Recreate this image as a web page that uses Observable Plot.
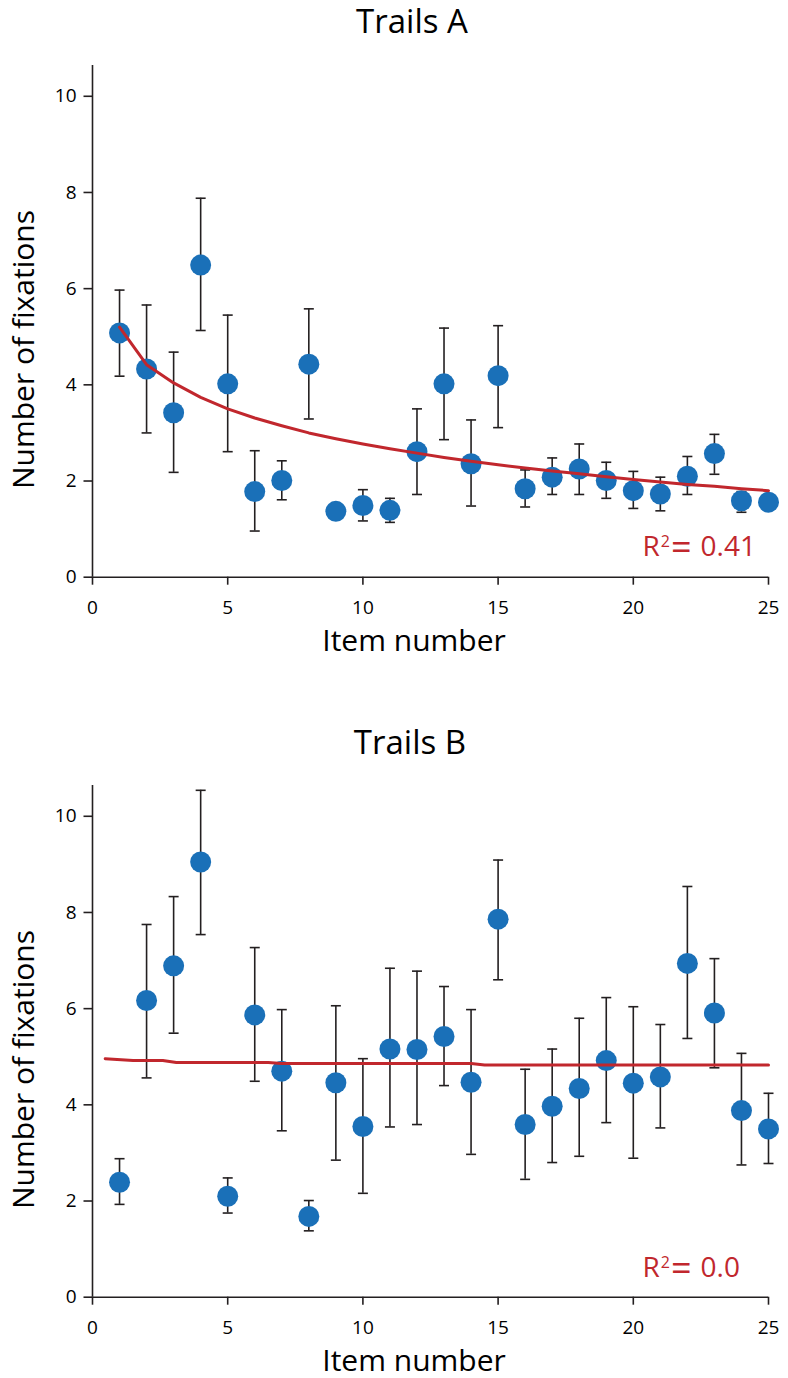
<!DOCTYPE html>
<html>
<head>
<meta charset="utf-8">
<script src="https://cdn.jsdelivr.net/npm/d3@7"></script>
<script src="https://cdn.jsdelivr.net/npm/@observablehq/plot@0.6"></script>
<style>
  body { margin: 0; background: #fff; }
  #page { position: relative; width: 788px; height: 1378px; font-family: "Open Sans", sans-serif; color: #000; }
  .title { position: absolute; width: 400px; text-align: center; font-size: 33px; line-height: 40px; color: #000; white-space: nowrap; }
  .panel { position: absolute; left: 0; }
  .panel svg { overflow: visible; }
</style>
</head>
<body>
<div id="page">
  <div class="title" style="left:212px; top:1px;">Trails A</div>
  <div class="panel" id="panelA" style="top:40px;"></div>
  <div class="title" style="left:210px; top:722px;">Trails B</div>
  <div class="panel" id="panelB" style="top:760px;"></div>
</div>
<script>
// ---- data ----
const items = [1, 2, 3, 4, 5, 6, 7, 8, 9, 10, 11, 12, 13, 14, 15, 16, 17, 18, 19, 20, 21, 22, 23, 24, 25];

// Trails A: mean, lower and upper error bar ends
const meanA = [5.08, 4.33, 3.42, 6.49, 4.02, 1.78, 2.01, 4.43, 1.37, 1.49, 1.39, 2.61, 4.02, 2.36, 4.19, 1.84, 2.08, 2.25, 2.01, 1.80, 1.73, 2.10, 2.57, 1.59, 1.56];
const loA   = [4.18, 3.00, 2.18, 5.13, 2.61, 0.96, 1.61, 3.29, 1.25, 1.17, 1.14, 1.72, 2.86, 1.48, 3.11, 1.46, 1.72, 1.72, 1.64, 1.43, 1.38, 1.72, 2.14, 1.35, 1.44];
const hiA   = [5.97, 5.66, 4.68, 7.88, 5.45, 2.63, 2.42, 5.58, 1.49, 1.82, 1.64, 3.50, 5.18, 3.27, 5.23, 2.23, 2.48, 2.77, 2.39, 2.20, 2.08, 2.51, 2.97, 1.78, 1.68];
// Trails A fitted curve, read at each item
const trendA = [5.20, 4.42, 4.04, 3.74, 3.50, 3.31, 3.15, 3.00, 2.88, 2.77, 2.67, 2.58, 2.49, 2.41, 2.34, 2.27, 2.21, 2.15, 2.09, 2.03, 1.98, 1.93, 1.89, 1.84, 1.80];

// Trails B
const meanB = [2.39, 6.17, 6.89, 9.05, 2.10, 5.87, 4.70, 1.68, 4.46, 3.55, 5.16, 5.15, 5.42, 4.47, 7.86, 3.59, 3.97, 4.34, 4.92, 4.45, 4.58, 6.94, 5.91, 3.88, 3.50];
const loB   = [1.93, 4.56, 5.49, 7.54, 1.75, 4.49, 3.46, 1.38, 2.85, 2.16, 3.54, 3.59, 4.40, 2.97, 6.60, 2.45, 2.80, 2.93, 3.63, 2.89, 3.52, 5.38, 4.77, 2.75, 2.78];
const hiB   = [2.88, 7.75, 8.33, 10.54, 2.48, 7.27, 5.98, 2.01, 6.06, 4.96, 6.84, 6.78, 6.46, 5.98, 9.09, 4.74, 5.16, 5.80, 6.23, 6.04, 5.67, 8.54, 7.04, 5.07, 4.24];
// Trails B fitted line, read at its visible bends
const trendBx = [0.47, 1.5, 2.6, 3.1, 6.5, 7.0, 14.0, 14.5, 25];
const trendBy = [4.96, 4.92, 4.92, 4.88, 4.88, 4.86, 4.86, 4.83, 4.83];

const xTicks = [0, 5, 10, 15, 20, 25];
const yTicks = [0, 2, 4, 6, 8, 10];
const xLabel = "Item number";
const yLabel = "Number of fixations";
const r2A = "0.41";
const r2B = "0.0";

// ---- styling ----
const ink = "#231f20";
const blue = "#1a70b8";
const red = "#c1272d";

// horizontal cap symbol for error bars
const capSymbol = {
  draw(context, size) {
    const w = Math.sqrt(size / Math.PI);
    context.moveTo(-w, 0);
    context.lineTo(w, 0);
  }
};

// turn the "R2= value" text into R, superscript 2, a wide "=" and the value
function styleR2(svg, value) {
  const ns = "http://www.w3.org/2000/svg";
  const target = "R2= " + value;
  const span = (txt, dx, dy, size) => {
    const s = document.createElementNS(ns, "tspan");
    s.setAttribute("dx", dx); s.setAttribute("dy", dy);
    s.setAttribute("style", `font-size:${size}px`);
    s.textContent = txt;
    return s;
  };
  svg.querySelectorAll("text").forEach(t => {
    if (t.textContent !== target) return;
    while (t.firstChild) t.removeChild(t.firstChild);
    t.appendChild(document.createTextNode("R"));
    t.appendChild(span("2", 1, -9, 16));
    t.appendChild(span("=", 1, 13, 36));
    t.appendChild(span(value, 9, -4, 28));
  });
  return svg;
}

function panel({mean, lo, hi, trendX, trendY, r2, height, r2dy, xLabelDy}) {
  const data = items.map((x, i) => ({x, mean: mean[i], lo: lo[i], hi: hi[i]}));
  const trend = trendX.map((x, i) => ({x, y: trendY[i]}));
  const frameBottom = 536.7;
  const svg = Plot.plot({
    width: 788,
    height,
    marginLeft: 92,
    marginRight: 20,
    marginTop: 25,
    marginBottom: height - frameBottom,
    style: {fontFamily: "'Open Sans', sans-serif", fontSize: "19px", color: "#000", background: "transparent", overflow: "visible"},
    x: {domain: [0, 25]},
    y: {domain: [0, 10.64]},
    marks: [
      Plot.axisX({ticks: xTicks, tickSize: 8, tickPadding: 15, tickFormat: d => String(d), label: null, stroke: ink, strokeWidth: 1.6, fontSize: 19}),
      Plot.axisY({ticks: yTicks, tickSize: 8.5, tickPadding: 7.5, tickFormat: d => String(d), label: null, stroke: ink, strokeWidth: 1.6, fontSize: 19}),
      Plot.ruleY([0], {stroke: ink, strokeWidth: 1.6}),
      Plot.ruleX([0], {stroke: ink, strokeWidth: 1.6}),
      Plot.ruleX(data, {x: "x", y1: "lo", y2: "hi", stroke: ink, strokeWidth: 1.6}),
      Plot.dot(data, {x: "x", y: "hi", symbol: capSymbol, r: 5, stroke: ink, strokeWidth: 1.6, fill: "none"}),
      Plot.dot(data, {x: "x", y: "lo", symbol: capSymbol, r: 5, stroke: ink, strokeWidth: 1.6, fill: "none"}),
      Plot.dot(data, {x: "x", y: "mean", r: 10.5, fill: blue, stroke: "none"}),
      Plot.line(trend, {x: "x", y: "y", stroke: red, strokeWidth: 3, curve: "linear"}),
      // R² annotation (one text, split into tspans after rendering)
      Plot.text([r2], {text: d => "R2= " + d, frameAnchor: "bottom-left", dx: 550, dy: r2dy, textAnchor: "start", lineAnchor: "bottom", fontSize: 28, fill: red}),
      // axis titles
      Plot.text([xLabel], {text: d => d, frameAnchor: "bottom", dx: -16.5, dy: xLabelDy, textAnchor: "middle", lineAnchor: "bottom", fontSize: 30, fill: "#000"}),
      Plot.text([yLabel], {text: d => d, frameAnchor: "left", rotate: -90, dx: -59, dy: 28.2, textAnchor: "middle", lineAnchor: "bottom", fontSize: 30, fill: "#000"})
    ]
  });
  return styleR2(svg, r2);
}

document.getElementById("panelA").appendChild(panel({
  mean: meanA, lo: loA, hi: hiA, trendX: items, trendY: trendA, r2: r2A,
  height: 620, r2dy: -21.7, xLabelDy: 74
}));
document.getElementById("panelB").appendChild(panel({
  mean: meanB, lo: loB, hi: hiB, trendX: trendBx, trendY: trendBy, r2: r2B,
  height: 618, r2dy: -20, xLabelDy: 73.3
}));
</script>
</body>
</html>
